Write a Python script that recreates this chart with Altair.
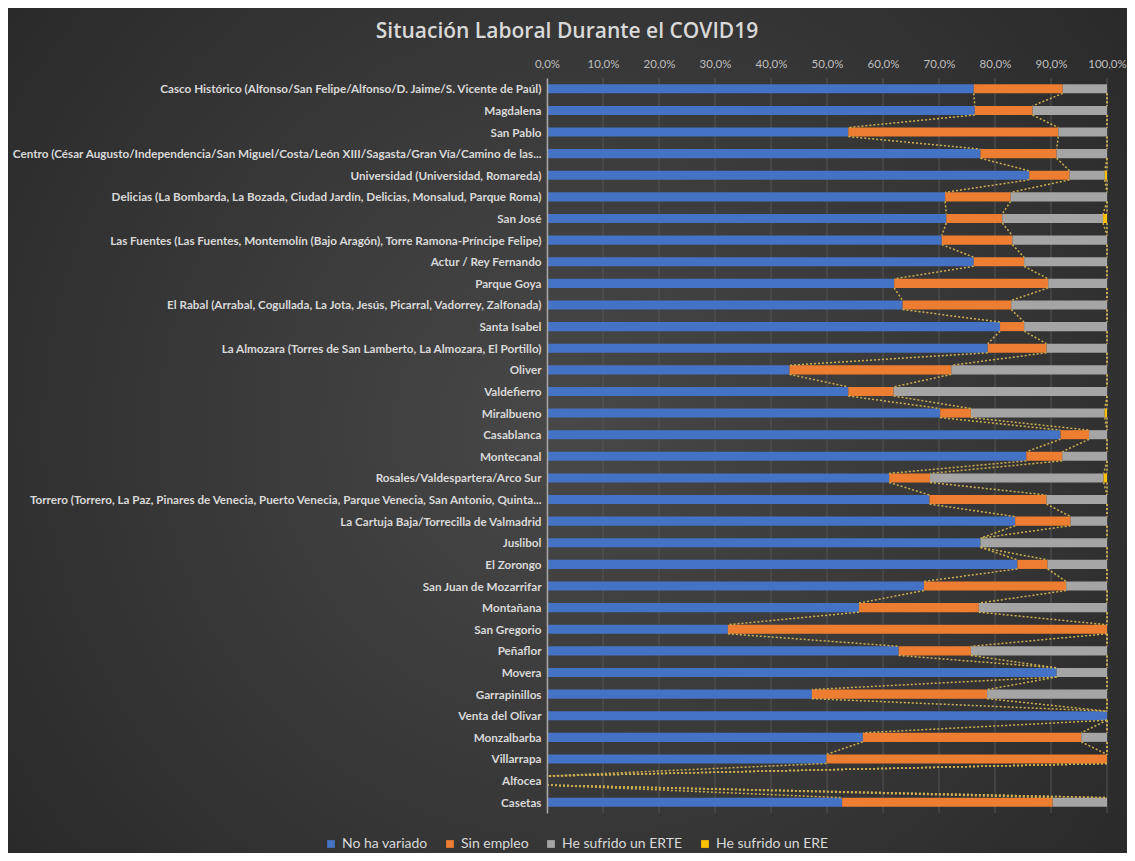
import json
import altair as alt
import pandas as pd

# ---------------- data ----------------
BARRIOS = [
    "Casco Histórico (Alfonso/San Felipe/Alfonso/D. Jaime/S. Vicente de Paúl)",
    "Magdalena",
    "San Pablo",
    "Centro (César Augusto/Independencia/San Miguel/Costa/León XIII/Sagasta/Gran Vía/Camino de las...",
    "Universidad (Universidad, Romareda)",
    "Delicias (La Bombarda, La Bozada, Ciudad Jardín, Delicias, Monsalud, Parque Roma)",
    "San José",
    "Las Fuentes (Las Fuentes, Montemolín (Bajo Aragón), Torre Ramona-Príncipe Felipe)",
    "Actur / Rey Fernando",
    "Parque Goya",
    "El Rabal (Arrabal, Cogullada, La Jota, Jesús, Picarral, Vadorrey, Zalfonada)",
    "Santa Isabel",
    "La Almozara (Torres de San Lamberto, La Almozara, El Portillo)",
    "Oliver",
    "Valdefierro",
    "Miralbueno",
    "Casablanca",
    "Montecanal",
    "Rosales/Valdespartera/Arco Sur",
    "Torrero (Torrero, La Paz, Pinares de Venecia, Puerto Venecia, Parque Venecia, San Antonio, Quinta...",
    "La Cartuja Baja/Torrecilla de Valmadrid",
    "Juslibol",
    "El Zorongo",
    "San Juan de Mozarrifar",
    "Montañana",
    "San Gregorio",
    "Peñaflor",
    "Movera",
    "Garrapinillos",
    "Venta del Olivar",
    "Monzalbarba",
    "Villarrapa",
    "Alfocea",
    "Casetas",
]

SERIES = ["No ha variado", "Sin empleo", "He sufrido un ERTE", "He sufrido un ERE"]
COLORS = ["#4472C4", "#ED7D31", "#A5A5A5", "#FFC000"]

NO_HA_VARIADO = [76.2, 76.4, 53.8, 77.4, 86.1, 71.1, 71.3, 70.5, 76.2, 62.0, 63.5, 80.9,
                 78.7, 43.3, 53.8, 70.2, 91.7, 85.6, 61.1, 68.3, 83.6, 77.4, 84.0, 67.3,
                 55.7, 32.3, 62.8, 91.0, 47.3, 100.0, 56.4, 49.9, 0.0, 52.7]
SIN_EMPLEO = [15.9, 10.3, 37.5, 13.6, 7.2, 11.7, 10.0, 12.6, 9.0, 27.5, 19.4, 4.3,
              10.5, 28.9, 8.1, 5.5, 5.1, 6.4, 7.3, 20.9, 9.9, 0.0, 5.4, 25.4,
              21.4, 67.7, 12.9, 0.0, 31.3, 0.0, 39.0, 50.1, 0.0, 37.6]
ERTE = [7.9, 13.3, 8.7, 9.0, 6.3, 17.2, 18.0, 16.9, 14.8, 10.5, 17.1, 14.8,
        10.8, 27.8, 38.1, 23.9, 3.2, 8.0, 31.0, 10.8, 6.5, 22.6, 10.6, 7.3,
        22.9, 0.0, 24.3, 9.0, 21.4, 0.0, 4.6, 0.0, 0.0, 9.7]
ERE = [0.0, 0.0, 0.0, 0.0, 0.4, 0.0, 0.7, 0.0, 0.0, 0.0, 0.0, 0.0,
       0.0, 0.0, 0.0, 0.4, 0.0, 0.0, 0.6, 0.0, 0.0, 0.0, 0.0, 0.0,
       0.0, 0.0, 0.0, 0.0, 0.0, 0.0, 0.0, 0.0, 0.0, 0.0]

X_TICKS = [0, 10, 20, 30, 40, 50, 60, 70, 80, 90, 100]

VALUES = [NO_HA_VARIADO, SIN_EMPLEO, ERTE, ERE]
HALF = 0.21  # half bar thickness in row units

# ---------------- tables ----------------
seg_rows, line_rows = [], []
cums = []
for s_i, s in enumerate(SERIES):
    cum_list = []
    for i in range(len(BARRIOS)):
        start = sum(VALUES[k][i] for k in range(s_i))
        end = start + VALUES[s_i][i]
        cum_list.append(end)
        seg_rows.append({"idx": i, "serie": s, "order": s_i, "start": start, "end": end,
                         "y0": i - HALF, "y1": i + HALF})
    cums.append(cum_list)
for s_i, s in enumerate(SERIES):
    c = cums[s_i]
    for i in range(len(BARRIOS) - 1):
        line_rows.append({"serie": s, "start": c[i], "end": c[i + 1],
                          "y0": i + HALF, "y1": i + 1 - HALF})

segs = pd.DataFrame(seg_rows)
lines = pd.DataFrame(line_rows)
grid = pd.DataFrame({"start": X_TICKS})

W, H = 560, 735
PAD = {"left": 539, "top": 70, "right": 20, "bottom": 40}

label_expr = "[" + ",".join(json.dumps(n, ensure_ascii=False) for n in BARRIOS) + "][datum.value]"

yscale = alt.Scale(domain=[-0.5, len(BARRIOS) - 0.5], reverse=True, nice=False, zero=False)
xscale = alt.Scale(domain=[0, 100], nice=False)

X_AXIS = alt.Axis(orient="top", values=X_TICKS,
                  labelExpr="replace(format(datum.value, '.1f'), '.', ',') + '%'",
                  grid=False, ticks=False, domain=False, labelFlush=False,
                  labelOverlap=False,
                  labelColor="#bfbfbf", labelFontSize=11.5, labelFont="Lato",
                  labelPadding=9, title=None, zindex=1)
Y_AXIS = alt.Axis(values=list(range(len(BARRIOS))), labelExpr=label_expr,
                  tickCount=len(BARRIOS),
                  grid=False, ticks=False, domain=True, domainColor="#a6a6a6",
                  domainWidth=1.5, labelColor="#d9d9d9", labelFontSize=11.7,
                  labelFont="Lato", labelFontWeight="bold", labelLimit=560,
                  labelOverlap=False, labelBound=False,
                  labelPadding=6, title=None, zindex=1)

# background (decorative radial gradient)
bg = alt.Chart(alt.Data(values=[{"a": 1}])).mark_rect(
    color={"gradient": "radial",
           "stops": [{"offset": 0, "color": "#484848"}, {"offset": 1, "color": "#242424"}],
           "x1": 0.5, "y1": 0.5, "r1": 0, "x2": 0.5, "y2": 0.5, "r2": 0.75},
    clip=False,
).encode(
    x=alt.value(-PAD["left"]), x2=alt.value(W + PAD["right"]),
    y=alt.value(-PAD["top"]), y2=alt.value(H + PAD["bottom"]),
)

gridlines = alt.Chart(grid).mark_rule(color="#555555", strokeWidth=1).encode(
    x=alt.X("start:Q", scale=xscale, axis=X_AXIS),
)

bars = alt.Chart(segs).mark_rect().encode(
    x=alt.X("start:Q", scale=xscale, axis=X_AXIS),
    x2="end:Q",
    y=alt.Y("y0:Q", scale=yscale, axis=Y_AXIS),
    y2="y1:Q",
    color=alt.Color("serie:N", scale=alt.Scale(domain=SERIES, range=COLORS),
                    legend=alt.Legend(orient="none", legendX=-223, legendY=759,
                                      direction="horizontal", title=None,
                                      symbolType="square", symbolSize=60,
                                      symbolStrokeWidth=0, labelColor="#d9d9d9",
                                      labelFontSize=14, labelFont="Lato",
                                      columnPadding=15, labelOffset=4, zindex=1)),
    order="order:Q",
)

series_lines = alt.Chart(lines).mark_rule(
    color="#cfb050", strokeDash=[2, 2], strokeWidth=1.5
).encode(
    x=alt.X("start:Q", scale=xscale, axis=X_AXIS),
    x2="end:Q",
    y=alt.Y("y0:Q", scale=yscale, axis=Y_AXIS),
    y2="y1:Q",
)

chart = alt.layer(bg, gridlines, bars, series_lines).properties(
    width=W, height=H,
    autosize=alt.AutoSizeParams(type="none"),
    padding=PAD,
    background="#303030",
    title=alt.TitleParams("Situación Laboral Durante el COVID19", anchor="middle",
                          dx=-260, fontSize=21, font="Open Sans", fontWeight=600,
                          color="#d9d9d9", offset=-34, zindex=1),
).configure_view(stroke=None)

chart.save("out.html", embed_options={"renderer": "svg", "actions": False})
